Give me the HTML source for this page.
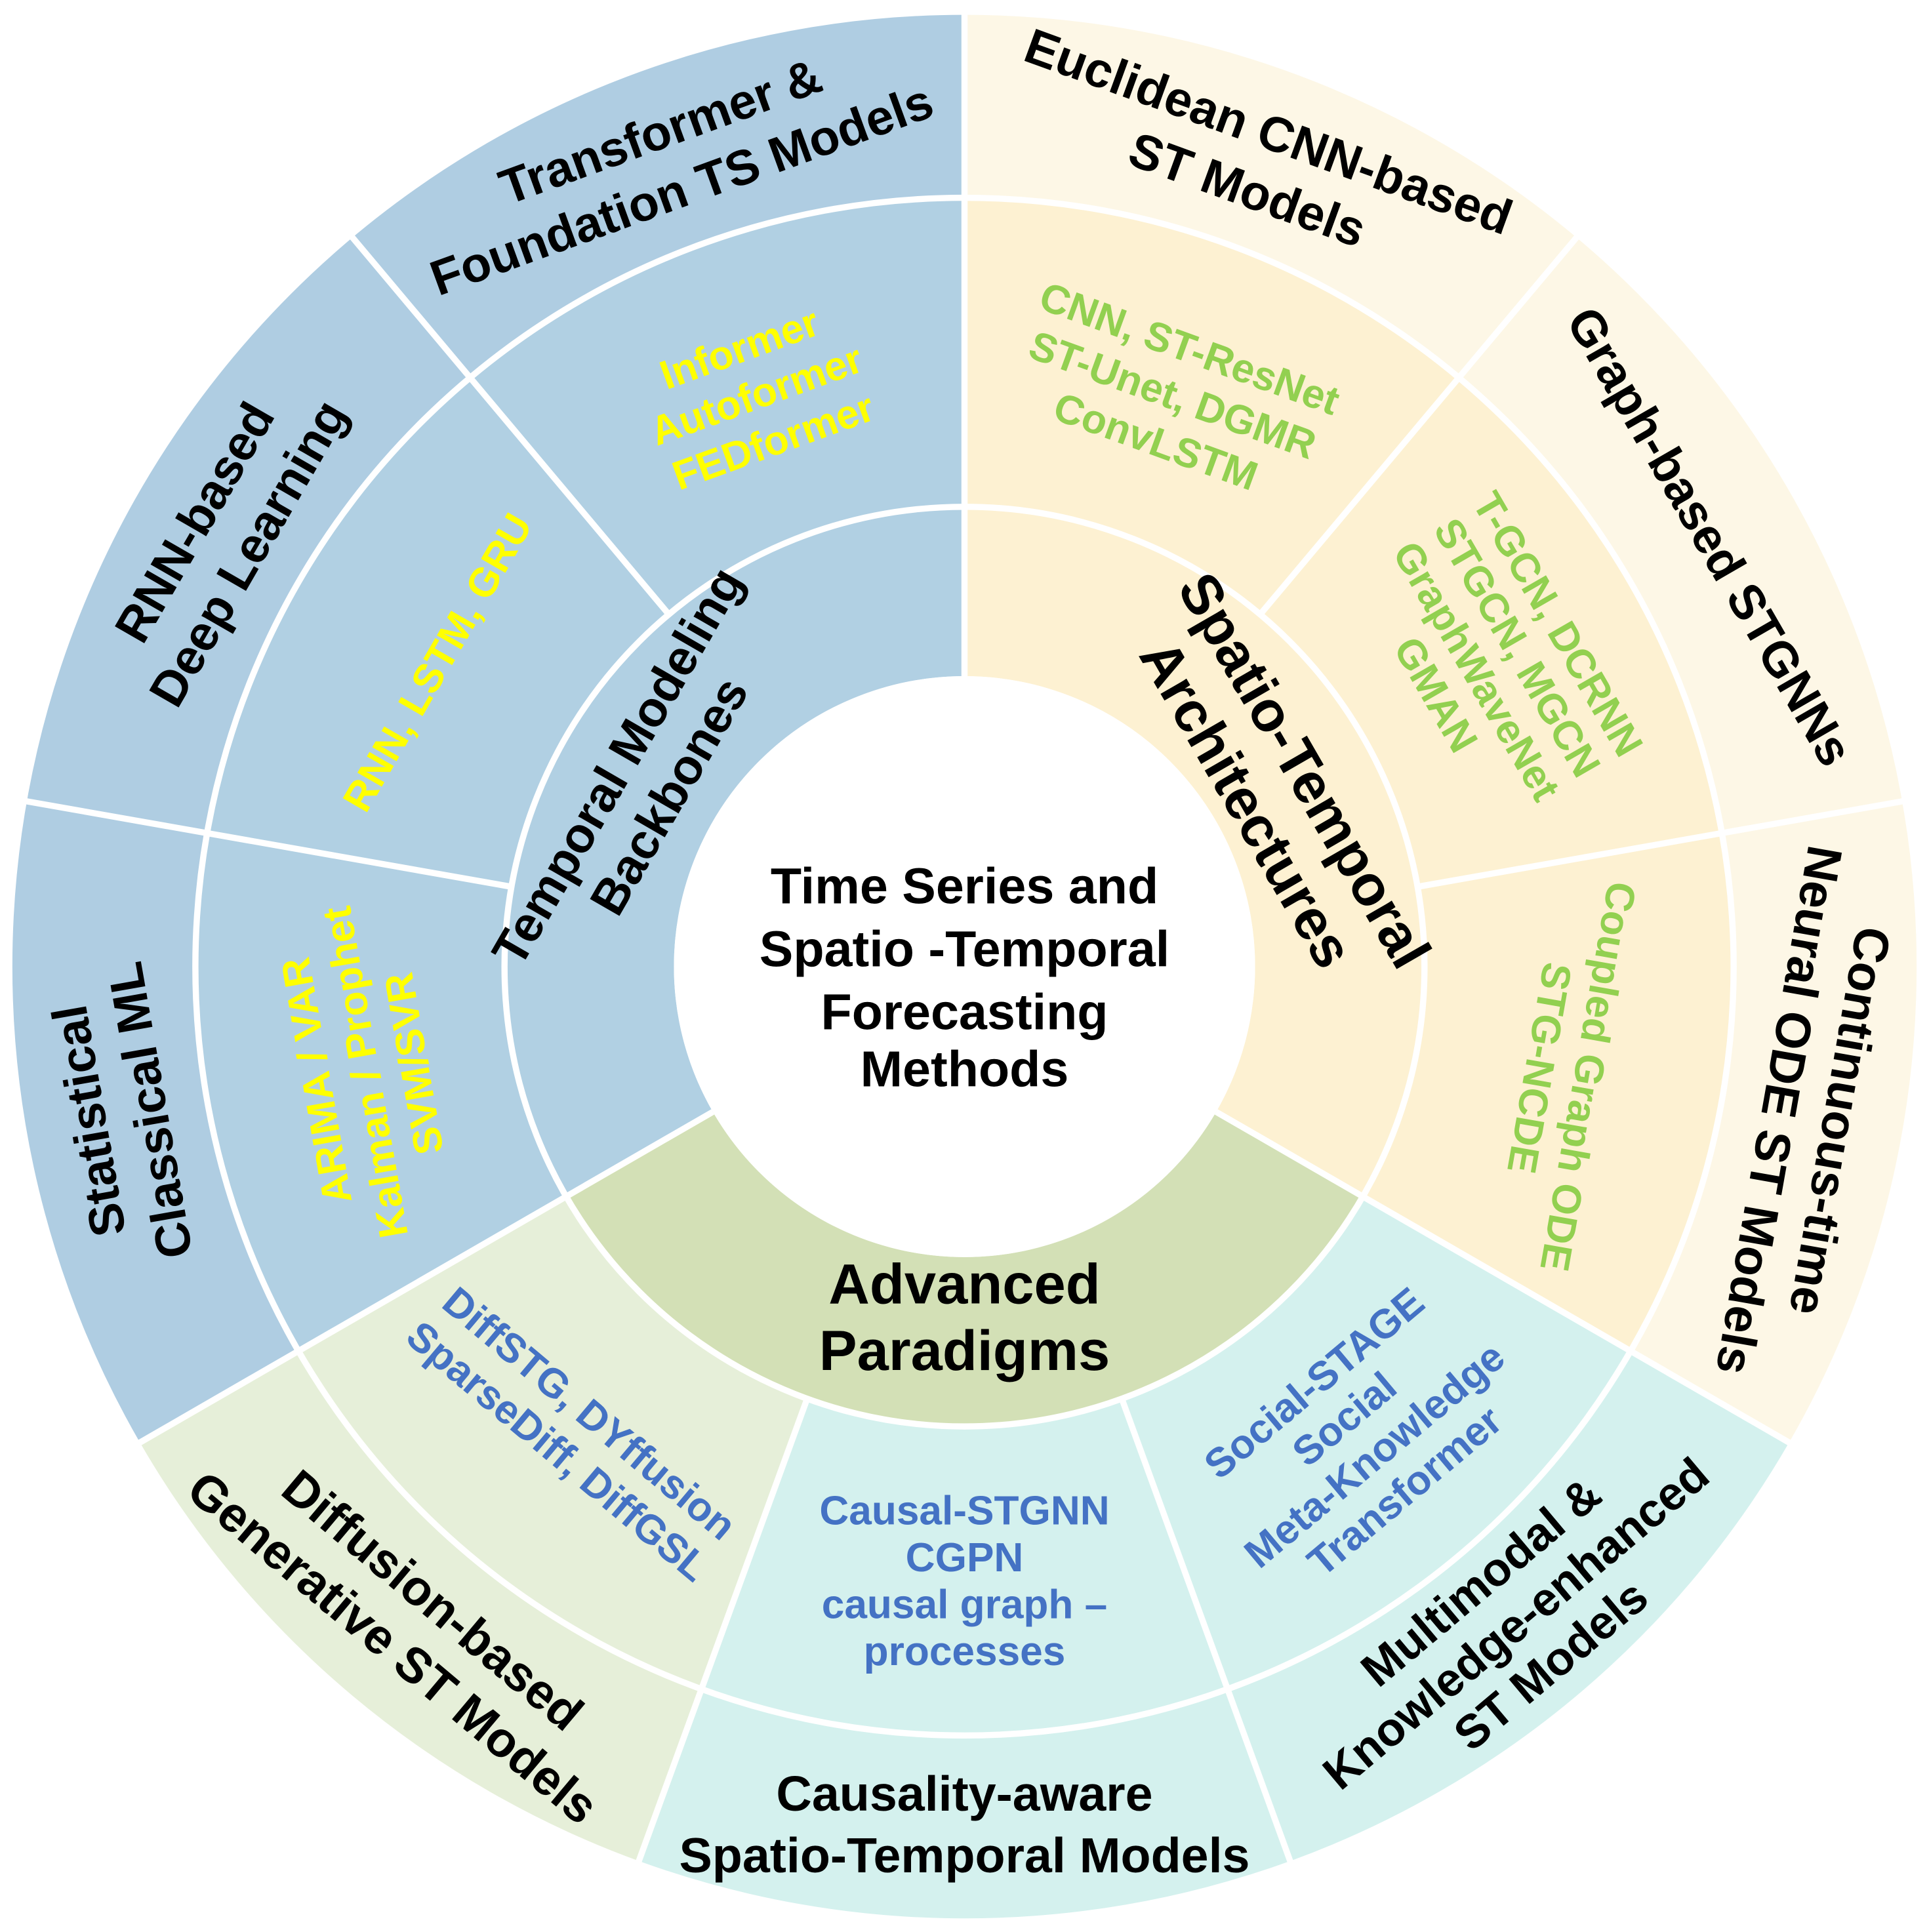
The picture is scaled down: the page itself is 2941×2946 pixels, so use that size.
<!DOCTYPE html>
<html><head><meta charset="utf-8"><style>
html,body{margin:0;padding:0;background:#fff;}
svg{display:block;}
text{font-family:"Liberation Sans",sans-serif;font-weight:bold;text-anchor:middle;dominant-baseline:central;}
</style></head><body>
<svg width="2941" height="2946" viewBox="0 0 1560 1563" preserveAspectRatio="none" xmlns="http://www.w3.org/2000/svg">
<g fill="none" transform="rotate(-90 780 782)">
<circle cx="780" cy="782" r="696" stroke="#fdf7e6" stroke-width="148" pathLength="360" stroke-dasharray="120 400" stroke-dashoffset="0"/>
<circle cx="780" cy="782" r="696" stroke="#d4f1ee" stroke-width="148" pathLength="360" stroke-dasharray="80 400" stroke-dashoffset="-120"/>
<circle cx="780" cy="782" r="696" stroke="#e6efd9" stroke-width="148" pathLength="360" stroke-dasharray="40 400" stroke-dashoffset="-200"/>
<circle cx="780" cy="782" r="696" stroke="#afcde2" stroke-width="148" pathLength="360" stroke-dasharray="120 400" stroke-dashoffset="-240"/>
<circle cx="780" cy="782" r="497" stroke="#fdf1d2" stroke-width="250" pathLength="360" stroke-dasharray="120 400" stroke-dashoffset="0"/>
<circle cx="780" cy="782" r="497" stroke="#d4f1ee" stroke-width="250" pathLength="360" stroke-dasharray="80 400" stroke-dashoffset="-120"/>
<circle cx="780" cy="782" r="497" stroke="#e6efd9" stroke-width="250" pathLength="360" stroke-dasharray="40 400" stroke-dashoffset="-200"/>
<circle cx="780" cy="782" r="497" stroke="#b1d0e3" stroke-width="250" pathLength="360" stroke-dasharray="120 400" stroke-dashoffset="-240"/>
<circle cx="780" cy="782" r="303.5" stroke="#fdf1d2" stroke-width="137" pathLength="360" stroke-dasharray="120 400" stroke-dashoffset="0"/>
<circle cx="780" cy="782" r="303.5" stroke="#d3e0b6" stroke-width="137" pathLength="360" stroke-dasharray="120 400" stroke-dashoffset="-120"/>
<circle cx="780" cy="782" r="303.5" stroke="#b1d0e3" stroke-width="137" pathLength="360" stroke-dasharray="120 400" stroke-dashoffset="-240"/>
</g>
<g stroke="#fff" stroke-width="5" fill="none">
<circle cx="780" cy="782" r="372"/>
<circle cx="780" cy="782" r="622"/>
<line x1="780" y1="547" x2="780" y2="410" transform="rotate(0 780 782)"/>
<line x1="780" y1="547" x2="780" y2="410" transform="rotate(120 780 782)"/>
<line x1="780" y1="547" x2="780" y2="410" transform="rotate(240 780 782)"/>
<line x1="780" y1="410" x2="780" y2="8" transform="rotate(0 780 782)"/>
<line x1="780" y1="410" x2="780" y2="8" transform="rotate(40 780 782)"/>
<line x1="780" y1="410" x2="780" y2="8" transform="rotate(80 780 782)"/>
<line x1="780" y1="410" x2="780" y2="8" transform="rotate(120 780 782)"/>
<line x1="780" y1="410" x2="780" y2="8" transform="rotate(160 780 782)"/>
<line x1="780" y1="410" x2="780" y2="8" transform="rotate(200 780 782)"/>
<line x1="780" y1="410" x2="780" y2="8" transform="rotate(240 780 782)"/>
<line x1="780" y1="410" x2="780" y2="8" transform="rotate(280 780 782)"/>
<line x1="780" y1="410" x2="780" y2="8" transform="rotate(320 780 782)"/>
</g>
<circle cx="780" cy="782" r="235" fill="#fff"/>

<g font-size="41" fill="#000">
<text x="780" y="717">Time Series and</text>
<text x="780" y="768">Spatio -Temporal</text>
<text x="780" y="819">Forecasting</text>
<text x="780" y="865">Methods</text>
</g>

<g fill="#000">
<text font-size="40" transform="rotate(300 780 782) translate(780 482)"><tspan x="0" y="-24">Temporal Modeling</tspan><tspan x="0" y="24">Backbones</tspan></text>
<text font-size="46" transform="rotate(60 780 782) translate(780 492)"><tspan x="0" y="-27">Spatio-Temporal</tspan><tspan x="0" y="27">Architectures</tspan></text>
<text font-size="46" transform="rotate(180 780 782) translate(780 498) rotate(180)"><tspan x="0" y="-27">Advanced</tspan><tspan x="0" y="27">Paradigms</tspan></text>
</g>

<g font-size="33">
<g fill="#ffff00">
<text transform="rotate(340 780 782) translate(780 290)"><tspan x="0" y="-40">Informer</tspan><tspan x="0" y="0">Autoformer</tspan><tspan x="0" y="40">FEDformer</tspan></text>
<text transform="rotate(300 780 782) translate(780 290)"><tspan x="0" y="0">RNN, LSTM, GRU</tspan></text>
<text transform="rotate(260 780 782) translate(780 290)"><tspan x="0" y="-40">ARIMA / VAR</tspan><tspan x="0" y="0">Kalman / Prophet</tspan><tspan x="0" y="40">SVM/SVR</tspan></text>
</g>
<g fill="#92d050">
<text transform="rotate(20 780 782) translate(780 290)"><tspan x="0" y="-40">CNN, ST-ResNet</tspan><tspan x="0" y="0">ST-Unet, DGMR</tspan><tspan x="0" y="40">ConvLSTM</tspan></text>
<text transform="rotate(60 780 782) translate(780 285)"><tspan x="0" y="-57">T-GCN, DCRNN</tspan><tspan x="0" y="-19">STGCN, MGCN</tspan><tspan x="0" y="19">GraphWaveNet</tspan><tspan x="0" y="57">GMAN</tspan></text>
<text transform="rotate(100 780 782) translate(780 290)"><tspan x="0" y="-20">Coupled Graph ODE</tspan><tspan x="0" y="20">STG-NCDE</tspan></text>
</g>
<g fill="#4472c4">
<text transform="rotate(140 780 782) translate(780 285) rotate(180)"><tspan x="0" y="-57">Social-STAGE</tspan><tspan x="0" y="-19">Social</tspan><tspan x="0" y="19">Meta-Knowledge</tspan><tspan x="0" y="57">Transformer</tspan></text>
<text transform="rotate(180 780 782) translate(780 285) rotate(180)"><tspan x="0" y="-57">Causal-STGNN</tspan><tspan x="0" y="-19">CGPN</tspan><tspan x="0" y="19">causal graph –</tspan><tspan x="0" y="57">processes</tspan></text>
<text transform="rotate(220 780 782) translate(780 290) rotate(180)"><tspan x="0" y="-20">DiffSTG, DYffusion</tspan><tspan x="0" y="20">SparseDiff, DiffGSL</tspan></text>
</g>
</g>

<g font-size="40" fill="#000">
<text transform="rotate(340 780 782) translate(780 88)"><tspan x="0" y="-25">Transformer &amp;</tspan><tspan x="0" y="25">Foundation TS Models</tspan></text>
<text transform="rotate(20 780 782) translate(780 88)"><tspan x="0" y="-25">Euclidean CNN-based</tspan><tspan x="0" y="25">ST Models</tspan></text>
<text transform="rotate(60 780 782) translate(780 86)"><tspan x="0" y="0">Graph-based STGNNs</tspan></text>
<text transform="rotate(100 780 782) translate(780 88)"><tspan x="0" y="-25">Continuous-time</tspan><tspan x="0" y="25">Neural ODE ST Models</tspan></text>
<text font-size="38" transform="rotate(140 780 782) translate(780 88) rotate(180)"><tspan x="0" y="-44">Multimodal &amp;</tspan><tspan x="0" y="0">Knowledge-enhanced</tspan><tspan x="0" y="44">ST Models</tspan></text>
<text transform="rotate(180 780 782) translate(780 88) rotate(180)"><tspan x="0" y="-25">Causality-aware</tspan><tspan x="0" y="25">Spatio-Temporal Models</tspan></text>
<text transform="rotate(220 780 782) translate(780 88) rotate(180)"><tspan x="0" y="-25">Diffusion-based</tspan><tspan x="0" y="25">Generative ST Models</tspan></text>
<text transform="rotate(260 780 782) translate(780 88)"><tspan x="0" y="-25">Statistical</tspan><tspan x="0" y="25">Classical ML</tspan></text>
<text transform="rotate(300 780 782) translate(780 88)"><tspan x="0" y="-25">RNN-based</tspan><tspan x="0" y="25">Deep Learning</tspan></text>
</g>
</svg>
</body></html>
